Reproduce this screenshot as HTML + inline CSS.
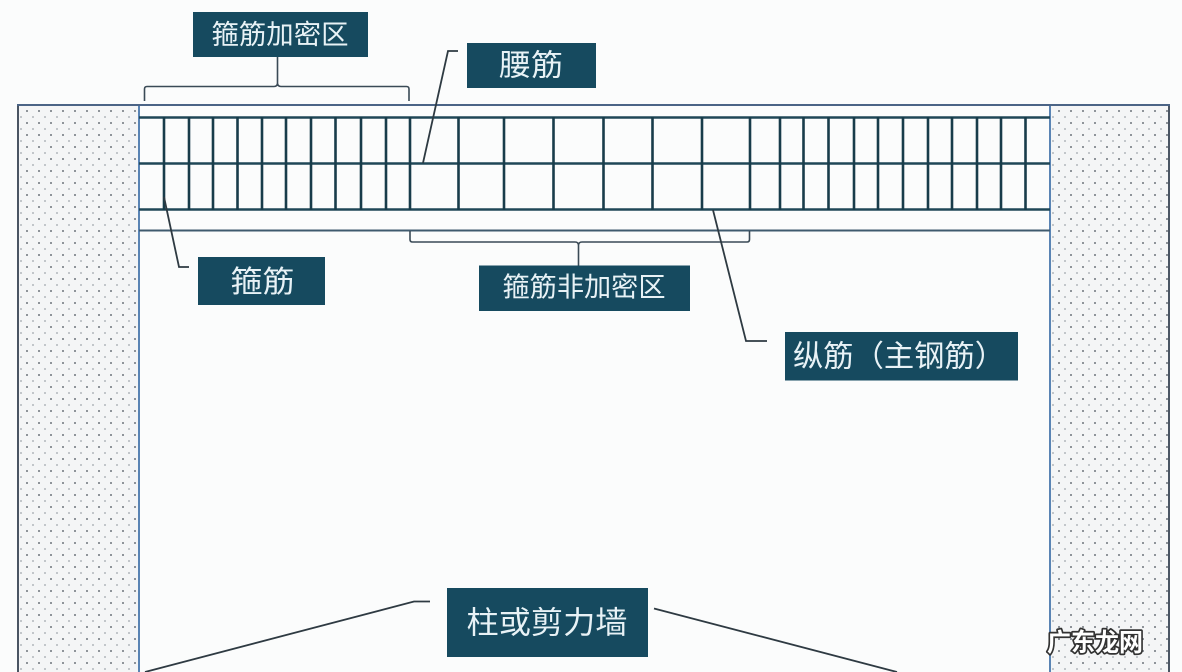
<!DOCTYPE html>
<html><head><meta charset="utf-8">
<style>
html,body{margin:0;padding:0;background:#fbfcfc;}
svg{display:block;}
text{font-family:"Liberation Sans","Noto Sans CJK SC",sans-serif;}
</style></head>
<body>
<svg width="1182" height="672" viewBox="0 0 1182 672" xmlns="http://www.w3.org/2000/svg">
<defs>
<pattern id="dots" x="0" y="0" width="12" height="12" patternUnits="userSpaceOnUse">
<rect width="12" height="12" fill="#f4f5f6"/>
<circle cx="3" cy="3" r="1" fill="#6f757c"/>
<circle cx="9" cy="9" r="0.85" fill="#9aa0a6"/>
</pattern>
</defs>
<rect width="1182" height="672" fill="#fbfcfc"/>

<!-- columns -->
<rect x="18" y="105" width="121" height="580" fill="url(#dots)"/>
<line x1="18" y1="105" x2="18" y2="672" stroke="#4a5563" stroke-width="2"/>
<line x1="139" y1="105" x2="139" y2="672" stroke="#5a84b4" stroke-width="2"/>
<rect x="1050" y="105" width="119" height="580" fill="url(#dots)"/>
<line x1="1050" y1="105" x2="1050" y2="672" stroke="#5a84b4" stroke-width="2"/>
<line x1="1169" y1="105" x2="1169" y2="672" stroke="#4a5563" stroke-width="2"/>

<!-- beam outline -->
<line x1="17" y1="105" x2="1170" y2="105" stroke="#4b6486" stroke-width="2"/>
<line x1="139" y1="230.5" x2="1050" y2="230.5" stroke="#3f5a6e" stroke-width="2"/>

<!-- grid horizontals -->
<g stroke="#1f4757" stroke-width="2.5">
<line x1="139" y1="117.5" x2="1050" y2="117.5"/>
<line x1="139" y1="163.5" x2="1050" y2="163.5"/>
<line x1="139" y1="209.5" x2="1050" y2="209.5"/>
</g>
<!-- grid verticals -->
<g stroke="#183c4a" stroke-width="2.6">
<line x1="164" y1="117" x2="164" y2="210"/>
<line x1="189" y1="117" x2="189" y2="210"/>
<line x1="213" y1="117" x2="213" y2="210"/>
<line x1="237.5" y1="117" x2="237.5" y2="210"/>
<line x1="262" y1="117" x2="262" y2="210"/>
<line x1="286" y1="117" x2="286" y2="210"/>
<line x1="311" y1="117" x2="311" y2="210"/>
<line x1="335.5" y1="117" x2="335.5" y2="210"/>
<line x1="361" y1="117" x2="361" y2="210"/>
<line x1="386" y1="117" x2="386" y2="210"/>
<line x1="410" y1="117" x2="410" y2="210"/>
<line x1="458.5" y1="117" x2="458.5" y2="210"/>
<line x1="504" y1="117" x2="504" y2="210"/>
<line x1="553.5" y1="117" x2="553.5" y2="210"/>
<line x1="603.5" y1="117" x2="603.5" y2="210"/>
<line x1="652.5" y1="117" x2="652.5" y2="210"/>
<line x1="702" y1="117" x2="702" y2="210"/>
<line x1="750" y1="117" x2="750" y2="210"/>
<line x1="780" y1="117" x2="780" y2="210"/>
<line x1="803.5" y1="117" x2="803.5" y2="210"/>
<line x1="828.5" y1="117" x2="828.5" y2="210"/>
<line x1="854" y1="117" x2="854" y2="210"/>
<line x1="878" y1="117" x2="878" y2="210"/>
<line x1="903" y1="117" x2="903" y2="210"/>
<line x1="928" y1="117" x2="928" y2="210"/>
<line x1="952" y1="117" x2="952" y2="210"/>
<line x1="977" y1="117" x2="977" y2="210"/>
<line x1="1001" y1="117" x2="1001" y2="210"/>
<line x1="1025.5" y1="117" x2="1025.5" y2="210"/>
</g>

<!-- braces -->
<g fill="none" stroke="#3a4a56" stroke-width="1.6">
<path d="M144.5,101 L144.5,89 Q144.5,86.5 147,86.5 L274,86.5 Q277.5,86.5 277.5,83 L277.5,57 M277.5,83 Q277.5,86.5 281,86.5 L406.5,86.5 Q409,86.5 409,89 L409,101"/>
<path d="M410,231 L410,239.5 Q410,242 412.5,242 L575,242 Q578.5,242 578.5,245.5 L578.5,266 M578.5,245.5 Q578.5,242 582,242 L747,242 Q749.5,242 749.5,239.5 L749.5,231"/>
</g>

<!-- leaders -->
<g fill="none" stroke="#2e3a42" stroke-width="1.8">
<polyline points="458,51 448,51 423,163"/>
<polyline points="164,197 179,267 189,267"/>
<polyline points="713,210 746,341 767,341"/>
<polyline points="430,601.5 414,601.5 145,672"/>
<polyline points="654,608.5 897,672"/>
</g>

<!-- labels -->
<g fill="#164a5f">
<rect x="193" y="12" width="175" height="45"/>
<rect x="467" y="43" width="129" height="45"/>
<rect x="198" y="257" width="127" height="48"/>
<rect x="479" y="265.5" width="211" height="45.5"/>
<rect x="785" y="332" width="233" height="48.5"/>
<rect x="447" y="588" width="201" height="69"/>
</g>
<g fill="#e8f2f6" text-anchor="middle" dominant-baseline="central">
<text x="280" y="35" font-size="27" textLength="137" lengthAdjust="spacingAndGlyphs">箍筋加密区</text>
<text x="531" y="66" font-size="30" textLength="64" lengthAdjust="spacingAndGlyphs">腰筋</text>
<text x="262.5" y="282.5" font-size="30" textLength="64" lengthAdjust="spacingAndGlyphs">箍筋</text>
<text x="584" y="287.5" font-size="27" textLength="163" lengthAdjust="spacingAndGlyphs">箍筋非加密区</text>
<text x="899" y="357" font-size="30" textLength="212" lengthAdjust="spacingAndGlyphs">纵筋（主钢筋）</text>
<text x="547" y="623" font-size="31" textLength="161" lengthAdjust="spacingAndGlyphs">柱或剪力墙</text>
</g>

<!-- watermark -->
<text x="1047" y="651" font-size="25" font-weight="bold" fill="#ffffff" stroke="#333333" stroke-width="3.5" stroke-linejoin="round" paint-order="stroke" textLength="96" lengthAdjust="spacingAndGlyphs">广东龙网</text>
</svg>
</body></html>
